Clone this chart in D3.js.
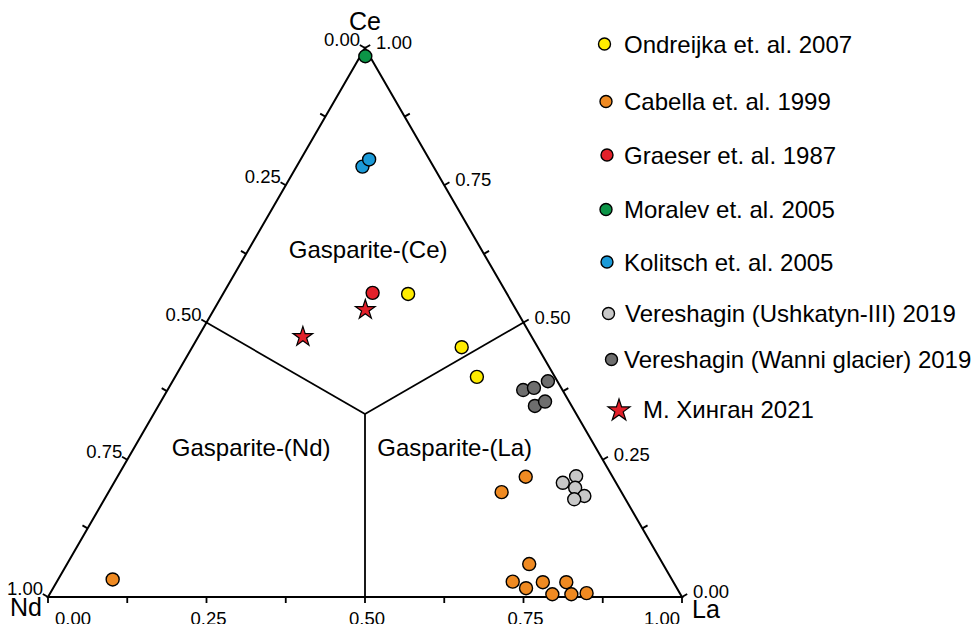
<!DOCTYPE html>
<html>
<head>
<meta charset="utf-8">
<script src="https://cdn.jsdelivr.net/npm/d3@7"></script>
<style>
  body { margin: 0; background: #fff; }
  svg { font-family: "Liberation Sans", Arial, sans-serif; }
</style>
</head>
<body>
<svg width="971" height="624"></svg>
<script>
// each point is [Ce, La, Nd]
const ondreijka = [[0.552, 0.292, 0.156], [0.455, 0.425, 0.120], [0.401, 0.476, 0.123]];
const cabella = [
  [0.219, 0.644, 0.137], [0.191, 0.620, 0.189], [0.060, 0.729, 0.211],
  [0.028, 0.719, 0.253], [0.016, 0.746, 0.238], [0.027, 0.767, 0.206],
  [0.005, 0.793, 0.202], [0.027, 0.804, 0.169], [0.005, 0.823, 0.172],
  [0.007, 0.846, 0.147], [0.032, 0.086, 0.882]
];
const graeser = [[0.554, 0.235, 0.211]];
const moralev = [[0.985, 0.008, 0.007]];
const kolitsch = [[0.784, 0.104, 0.112], [0.797, 0.108, 0.095]];
const ushkatyn = [
  [0.208, 0.708, 0.084], [0.220, 0.723, 0.057], [0.199, 0.732, 0.069],
  [0.184, 0.754, 0.062], [0.178, 0.741, 0.081]
];
const wanni = [
  [0.377, 0.561, 0.062], [0.381, 0.576, 0.043], [0.393, 0.592, 0.015],
  [0.348, 0.594, 0.058], [0.356, 0.606, 0.038]
];
const khingan = [[0.523, 0.239, 0.238], [0.474, 0.165, 0.361]];

const seriesNames = [
  "Ondreijka et. al. 2007",
  "Cabella et. al. 1999",
  "Graeser et. al. 1987",
  "Moralev et. al. 2005",
  "Kolitsch et. al. 2005",
  "Vereshagin (Ushkatyn-III) 2019",
  "Vereshagin (Wanni glacier) 2019",
  "М. Хинган 2021"
];
const seriesData = [ondreijka, cabella, graeser, moralev, kolitsch, ushkatyn, wanni, khingan];

const tickValues = [0, 0.125, 0.25, 0.375, 0.5, 0.625, 0.75, 0.875, 1];
const tickLabels = ["0.00", "0.25", "0.50", "0.75", "1.00"];
const fieldNames = ["Gasparite-(Ce)", "Gasparite-(Nd)", "Gasparite-(La)"];

const colors = ["#ffec00", "#ef8a22", "#e2202a", "#0c9447", "#1b9ad8", "#c8c8c8", "#6e6e6e", "#e2202a"];

const svg = d3.select("svg");

// ternary -> screen
const xScale = d3.scaleLinear().domain([0, 1]).range([48, 682]);
const yScale = d3.scaleLinear().domain([0, 1]).range([597, 48]);
const px = (d) => xScale(d[1] + d[0] / 2);
const py = (d) => yScale(d[0]);

const A = [1, 0, 0], L = [0, 1, 0], N = [0, 0, 1];
const line = d3.line().x(px).y(py);

// frame
svg.append("path")
  .attr("d", line([A, L, N]) + "Z")
  .attr("fill", "none")
  .attr("stroke", "#000")
  .attr("stroke-width", 2)
  .attr("stroke-linejoin", "miter");

// field boundaries from the centroid
const c = [1 / 3, 1 / 3, 1 / 3];
[[0.5, 0, 0.5], [0.5, 0.5, 0], [0, 0.5, 0.5]].forEach((m) => {
  svg.append("path")
    .attr("d", line([c, m]))
    .attr("stroke", "#000")
    .attr("stroke-width", 1.8);
});

// ticks
const tl = 6;
const ticks = svg.append("g").attr("stroke", "#000").attr("stroke-width", 1.8);
tickValues.forEach((t) => {
  // bottom: La
  const b = [0, t, 1 - t];
  ticks.append("line").attr("x1", px(b)).attr("y1", py(b)).attr("x2", px(b)).attr("y2", py(b) + tl);
  // left: Nd
  const l = [1 - t, 0, t];
  ticks.append("line").attr("x1", px(l)).attr("y1", py(l))
    .attr("x2", px(l) - tl * 0.866).attr("y2", py(l) - tl * 0.5);
  // right: Ce
  const r = [t, 1 - t, 0];
  ticks.append("line").attr("x1", px(r)).attr("y1", py(r))
    .attr("x2", px(r) + tl * 0.866).attr("y2", py(r) - tl * 0.5);
});

// tick labels
const lab = svg.append("g").attr("font-size", 18.5).attr("fill", "#000");
tickLabels.forEach((s) => {
  const t = +s;
  const b = [0, t, 1 - t];
  lab.append("text")
    .attr("x", px(b) + (t === 0 ? 7 : t === 1 ? -2 : 2))
    .attr("y", py(b) + 28)
    .attr("text-anchor", t === 0 ? "start" : t === 1 ? "end" : "middle")
    .text(s);
  const l = [1 - t, 0, t];
  lab.append("text")
    .attr("x", px(l) - 5)
    .attr("y", py(l) - 2)
    .attr("text-anchor", "end")
    .text(s);
  const r = [t, 1 - t, 0];
  lab.append("text")
    .attr("x", px(r) + 11)
    .attr("y", py(r) + 1)
    .attr("text-anchor", "start")
    .text(s);
});

// vertex names
const vx = svg.append("g").attr("font-size", 25).attr("fill", "#000");
vx.append("text").attr("x", px(A)).attr("y", py(A) - 18).attr("text-anchor", "middle").text("Ce");
vx.append("text").attr("x", px(N) - 6).attr("y", py(N) + 19).attr("text-anchor", "end").text("Nd");
vx.append("text").attr("x", px(L) + 10).attr("y", py(L) + 21).attr("text-anchor", "start").text("La");

// field names
const fieldPos = [[0.632, 0.189, 0.179], [0.273, 0.184, 0.543], [0.273, 0.505, 0.222]];
fieldNames.forEach((f, i) => {
  svg.append("text")
    .attr("x", px(fieldPos[i]))
    .attr("y", py(fieldPos[i]))
    .attr("dy", "0.35em")
    .attr("text-anchor", "middle")
    .attr("font-size", 24)
    .text(f);
});

// points
const star = d3.symbol().type(d3.symbolStar).size(120);
seriesData.forEach((data, i) => {
  if (i === 7) {
    svg.append("g").selectAll("path")
      .data(data)
      .join("path")
      .attr("d", star)
      .attr("transform", (d) => `translate(${px(d)},${py(d)})`)
      .attr("fill", colors[i])
      .attr("stroke", "#000")
      .attr("stroke-width", 1.2);
  } else {
    svg.append("g").selectAll("circle")
      .data(data)
      .join("circle")
      .attr("cx", px)
      .attr("cy", py)
      .attr("r", 6.5)
      .attr("fill", colors[i])
      .attr("stroke", "#000")
      .attr("stroke-width", 1.4);
  }
});

// legend
const legY = [44, 101.5, 155, 209.5, 262, 313.5, 359.5, 409.5];
const legX = [604.5, 606, 607, 606, 607, 608.5, 611.5, 619];
const legTextX = [624, 624, 624, 624, 624, 625, 624, 643];
const legend = svg.append("g");
seriesNames.forEach((name, i) => {
  if (i === 7) {
    legend.append("path")
      .attr("d", d3.symbol().type(d3.symbolStar).size(150)())
      .attr("transform", `translate(${legX[i]},${legY[i] + 1})`)
      .attr("fill", colors[i])
      .attr("stroke", "#000")
      .attr("stroke-width", 1.2);
  } else {
    legend.append("circle")
      .attr("cx", legX[i]).attr("cy", legY[i]).attr("r", 6)
      .attr("fill", colors[i])
      .attr("stroke", "#000")
      .attr("stroke-width", 1.4);
  }
  legend.append("text")
    .attr("x", legTextX[i])
    .attr("y", legY[i])
    .attr("dy", "0.36em")
    .attr("font-size", 24)
    .text(name);
});
</script>
</body>
</html>
